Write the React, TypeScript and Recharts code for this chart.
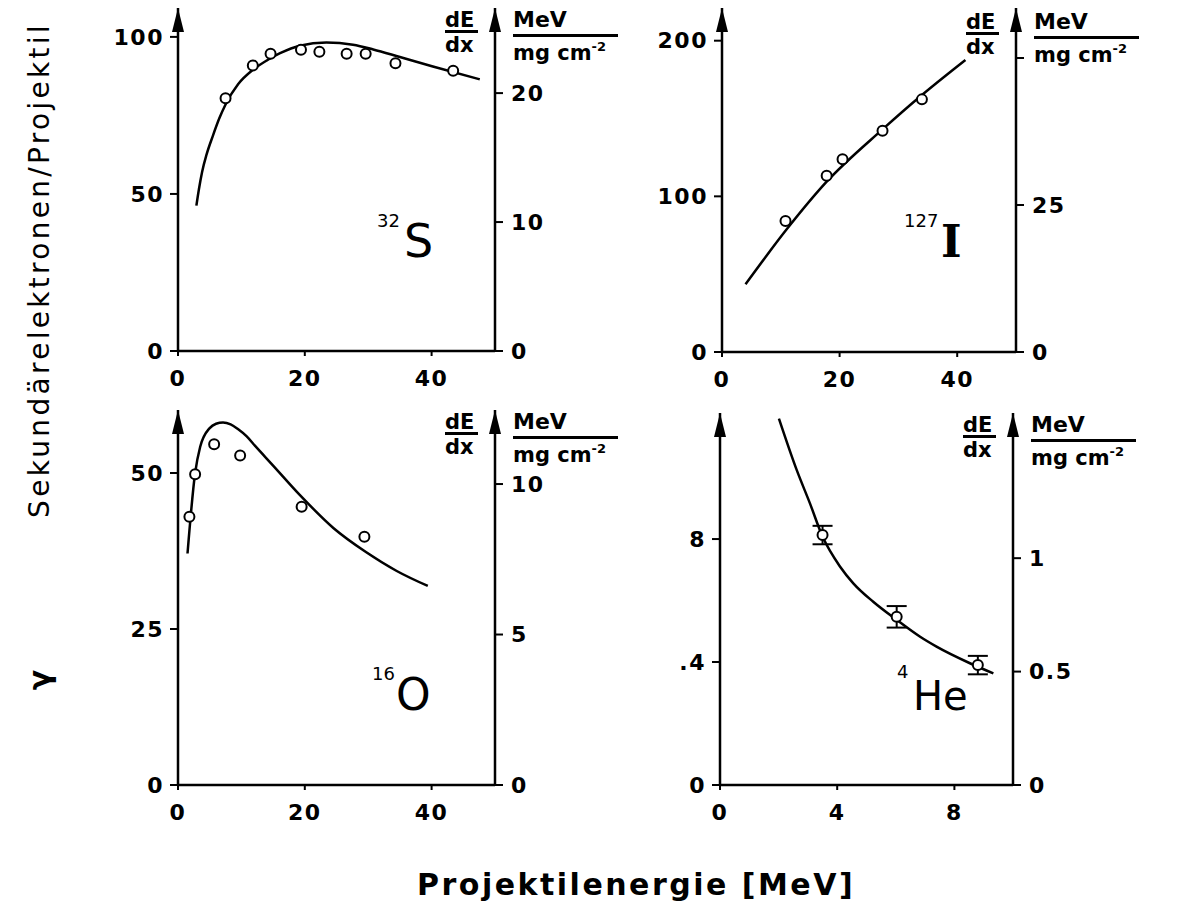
import React from 'react';
import { ComposedChart, Line, Scatter, XAxis, YAxis, ReferenceDot, ErrorBar } from 'recharts';

const FONT = '"DejaVu Sans", "Noto Sans", sans-serif';
const SERIF = '"DejaVu Serif", "Liberation Serif", serif';

// ---- 32S panel ----
const sCurveX = [2.9, 3.3, 3.8, 4.5, 5.5, 6.5, 7.5, 9.5, 11.8, 14.0, 16.1, 19.2, 23.4, 27.6, 30.8, 35.0, 40.2, 47.6];
const sCurveY = [46.3, 51.5, 57.0, 62.5, 68.5, 74.0, 78.5, 85.0, 89.5, 92.5, 94.8, 97.2, 98.2, 97.5, 96.0, 93.6, 90.6, 86.5];
const sPointX = [7.5, 11.8, 14.6, 19.4, 22.3, 26.6, 29.6, 34.3, 43.4];
const sPointY = [80.5, 90.9, 94.6, 95.9, 95.3, 94.6, 94.6, 91.6, 89.2];

// ---- 127I panel ----
const iCurveX = [4.0, 11.0, 17.8, 27.3, 34.0, 41.4];
const iCurveY = [43.5, 78.8, 109.4, 143.0, 165.1, 187.6];
const iPointX = [10.8, 17.8, 20.5, 27.3, 34.0];
const iPointY = [84.2, 113.3, 123.8, 142.2, 162.3];

// ---- 16O panel ----
const oCurveX = [1.5, 2.7, 3.5, 5.0, 6.0, 7.1, 8.3, 9.5, 10.8, 12.2, 15.0, 19.2, 24.5, 29.7, 34.5, 39.4];
const oCurveY = [37.1, 50.0, 54.2, 57.2, 57.9, 58.1, 57.8, 57.0, 55.9, 54.3, 51.2, 46.5, 41.2, 37.3, 34.3, 31.9];
const oPointX = [1.8, 2.7, 5.7, 9.8, 19.5, 29.4];
const oPointY = [43.0, 49.8, 54.6, 52.8, 44.6, 39.8];

// ---- 4He panel ----
const heCurveX = [2.01, 2.62, 3.07, 3.5, 4.1, 4.55, 5.23, 6.03, 6.83, 7.39, 8.53, 9.33];
const heCurveY = [11.92, 10.24, 9.16, 8.08, 7.1, 6.56, 5.96, 5.37, 4.82, 4.5, 3.96, 3.63];
const hePointX = [3.5, 6.03, 8.8];
const hePointY = [8.13, 5.47, 3.9];
const hePointErr = [0.3, 0.35, 0.3];

// ---- axis ticks ----
const xTicksWide = [0, 20, 40];
const xTicksHe = [0, 4, 8];
const sLeftTicks = [0, 50, 100];
const sRightTicks = [0, 10, 20];
const iLeftTicks = [0, 100, 200];
const iRightTicks = [0, 25, 50];
const oLeftTicks = [0, 25, 50];
const oRightTicks = [0, 5, 10];
const heLeftTicks = [0, 4, 8];
const heRightTicks = [0, 0.5, 1];

const zip = (xs: number[], ys: number[], es?: number[]) =>
  xs.map((x, i) => ({ x, y: ys[i], err: es ? es[i] : 0 }));

const Arrow = (props: any) => {
  const { cx, cy } = props;
  if (cx == null || cy == null) return null;
  return <path d={`M${cx},${cy} L${cx - 6},${cy + 24} L${cx + 6},${cy + 24} Z`} fill="#000" />;
};

const Ring = (props: any) => {
  const { cx, cy } = props;
  if (cx == null || cy == null) return null;
  return <circle cx={cx} cy={cy} r={5} fill="#fff" stroke="#000" strokeWidth={2} />;
};

type PanelProps = {
  l: number; r: number; t: number; b: number;
  xDomain: [number, number]; xTicks: number[];
  yDomain: [number, number]; yTicks: number[]; yFmt?: (v: number) => string;
  rDomain: [number, number]; rTicks: number[]; rFmt?: (v: number) => string;
  curve: { x: number; y: number }[];
  points: { x: number; y: number; err: number }[];
  withErr?: boolean;
};

const tickStyle = { fill: '#000', fontSize: 22, fontFamily: FONT, fontWeight: 'bold' };
const axisStyle = { stroke: '#000', strokeWidth: 2.5 };
const tickLineStyle = { stroke: '#000', strokeWidth: 2 };

function Panel(p: PanelProps) {
  const LW = 120, RW = 130, TM = 12, XH = 50;
  const w = p.r - p.l + LW + RW;
  const h = p.b - p.t + TM + XH;
  return (
    <div style={{ position: 'absolute', left: p.l - LW, top: p.t - TM, letterSpacing: 1.5 }}>
      <ComposedChart width={w} height={h} margin={{ top: TM, right: 0, bottom: 0, left: 0 }}>
        <XAxis type="number" dataKey="x" domain={p.xDomain} ticks={p.xTicks} allowDataOverflow interval={0}
          axisLine={axisStyle} tickLine={tickLineStyle} tickSize={5} tickMargin={14} height={XH} tick={tickStyle} />
        <YAxis yAxisId="l" orientation="left" type="number" width={LW} domain={p.yDomain} ticks={p.yTicks}
          allowDataOverflow interval={0} tickFormatter={p.yFmt} axisLine={axisStyle} tickLine={tickLineStyle}
          tickSize={8} tickMargin={6} tick={tickStyle} />
        <YAxis yAxisId="r" orientation="right" type="number" width={RW} domain={p.rDomain} ticks={p.rTicks}
          allowDataOverflow interval={0} tickFormatter={p.rFmt} axisLine={axisStyle} tickLine={tickLineStyle}
          tickSize={8} tickMargin={8} tick={{ ...tickStyle, textAnchor: 'start' }} />
        <Line yAxisId="l" data={p.curve} dataKey="y" type="monotone" dot={false} activeDot={false}
          stroke="#000" strokeWidth={2.5} isAnimationActive={false} />
        <Scatter yAxisId="l" data={p.points} dataKey="y" shape={Ring} isAnimationActive={false}>
          {p.withErr ? <ErrorBar dataKey="err" direction="y" width={10} stroke="#000" strokeWidth={2} /> : null}
        </Scatter>
        <ReferenceDot yAxisId="l" x={p.xDomain[0]} y={p.yDomain[1]} shape={Arrow} ifOverflow="visible" />
        <ReferenceDot yAxisId="l" x={p.xDomain[1]} y={p.yDomain[1]} shape={Arrow} ifOverflow="visible" />
      </ComposedChart>
    </div>
  );
}

function T(props: { x: number; base: number; size: number; family?: string; ls?: number; bold?: boolean; children: React.ReactNode }) {
  return (
    <div style={{
      position: 'absolute', left: props.x, top: props.base - 0.846 * props.size, fontSize: props.size,
      lineHeight: 1, fontFamily: props.family || FONT, letterSpacing: props.ls ?? 0, whiteSpace: 'nowrap', color: '#000',
      fontWeight: props.bold ? 'bold' : 'normal',
    }}>{props.children}</div>
  );
}

function Units({ rx, t }: { rx: number; t: number }) {
  return (
    <>
      <T x={rx - 50} base={t + 20} size={21} bold>dE</T>
      <div style={{ position: 'absolute', left: rx - 50, top: t + 22, width: 33, height: 2.5, background: '#000' }} />
      <T x={rx - 50} base={t + 45} size={21} bold>dx</T>
      <T x={rx + 18} base={t + 20} size={22} bold>MeV</T>
      <div style={{ position: 'absolute', left: rx + 18, top: t + 26, width: 105, height: 2.5, background: '#000' }} />
      <T x={rx + 18} base={t + 53} size={21} bold>mg cm<span style={{ fontSize: 13, position: 'relative', top: -9 }}>-2</span></T>
    </>
  );
}

export default function App() {
  return (
    <div style={{ position: 'absolute', left: 0, top: 0, width: 1186, height: 919, background: '#fff', overflow: 'hidden' }}>
      <Panel l={178} r={495} t={8} b={351} xDomain={[0, 50]} xTicks={xTicksWide}
        yDomain={[0, 109.2]} yTicks={sLeftTicks} rDomain={[0, 26.6]} rTicks={sRightTicks}
        curve={zip(sCurveX, sCurveY)} points={zip(sPointX, sPointY)} />
      <Panel l={722} r={1016} t={8} b={352} xDomain={[0, 50]} xTicks={xTicksWide}
        yDomain={[0, 221]} yTicks={iLeftTicks} rDomain={[0, 58.5]} rTicks={iRightTicks}
        rFmt={(v) => (v === 50 ? '' : String(v))}
        curve={zip(iCurveX, iCurveY)} points={zip(iPointX, iPointY)} />
      <Panel l={178} r={495} t={410} b={785} xDomain={[0, 50]} xTicks={xTicksWide}
        yDomain={[0, 60.1]} yTicks={oLeftTicks} rDomain={[0, 12.46]} rTicks={oRightTicks}
        curve={zip(oCurveX, oCurveY)} points={zip(oPointX, oPointY)} />
      <Panel l={720} r={1013} t={413} b={785} xDomain={[0, 10]} xTicks={xTicksHe}
        yDomain={[0, 12.1]} yTicks={heLeftTicks} yFmt={(v) => (v === 4 ? '.4' : String(v))}
        rDomain={[0, 1.64]} rTicks={heRightTicks} rFmt={(v) => (v === 0.5 ? '0.5' : String(v))}
        curve={zip(heCurveX, heCurveY)} points={zip(hePointX, hePointY, hePointErr)} withErr />

      <Units rx={495} t={8} />
      <Units rx={1016} t={10} />
      <Units rx={495} t={410} />
      <Units rx={1013} t={413} />

      <T x={377} base={227} size={18}>32</T>
      <T x={404} base={257} size={46}>S</T>
      <T x={904} base={227} size={18}>127</T>
      <T x={941} base={257} size={44} family={SERIF} bold>I</T>
      <T x={372} base={680} size={18}>16</T>
      <T x={396} base={710} size={44}>O</T>
      <T x={897} base={678} size={18}>4</T>
      <T x={913} base={710} size={40}>He</T>

      <T x={417} base={895} size={30} ls={2.5} bold>Projektilenergie [MeV]</T>

      <div style={{
        position: 'absolute', left: 40 - 260, top: 270 - 18, width: 520, height: 36, lineHeight: '36px',
        textAlign: 'center', fontSize: 28, letterSpacing: 3.3, fontFamily: FONT, transform: 'rotate(-90deg)', whiteSpace: 'nowrap',
      }}>Sekundärelektronen/Projektil</div>
      <div style={{
        position: 'absolute', left: 40 - 20, top: 680 - 18, width: 40, height: 36, lineHeight: '36px',
        textAlign: 'center', fontSize: 30, fontWeight: 'bold', fontFamily: FONT, transform: 'rotate(-90deg)',
      }}>γ</div>
    </div>
  );
}
